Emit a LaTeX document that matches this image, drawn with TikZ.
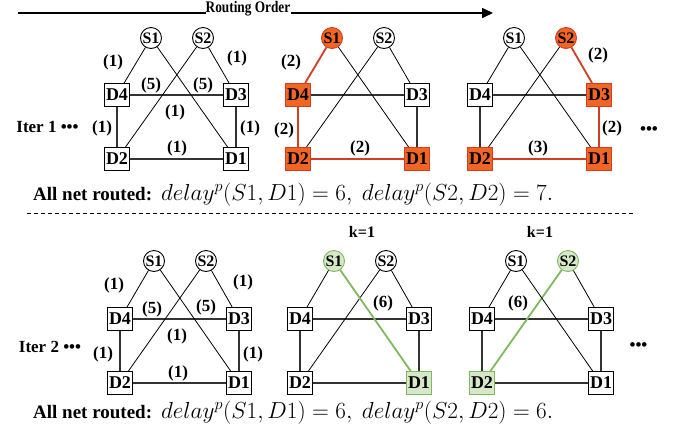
\RequirePackage{fix-cm}
\documentclass[tikz,border=0pt]{standalone}
\usepackage[no-math]{fontspec}
\setmainfont{Liberation Serif}
\usetikzlibrary{arrows.meta}
\definecolor{orfill}{RGB}{242,101,34}
\definecolor{orline}{RGB}{208,62,36}
\definecolor{grfill}{RGB}{214,232,200}
\definecolor{grline}{RGB}{128,184,96}
\tikzset{
  snode/.style={circle,draw,line width=0.9pt,minimum size=21pt,inner sep=0pt,font=\fontsize{16}{16}\selectfont\bfseries},
  dnode/.style={rectangle,draw,line width=1.1pt,minimum width=25pt,minimum height=23pt,inner sep=0pt,font=\fontsize{18}{18}\selectfont\bfseries},
  wlab/.style={font=\fontsize{17}{17}\selectfont\bfseries,inner sep=0pt},
  txt/.style={font=\fontsize{17}{17}\selectfont\bfseries,inner sep=0pt},
  big/.style={font=\fontsize{19}{19}\selectfont\bfseries,inner sep=0pt},
  mth/.style={font=\fontsize{23.2}{23.2}\selectfont,inner sep=0pt},
  edge/.style={line width=0.8pt},
  sqedge/.style={line width=1.1pt,draw=black!80},
  oredge/.style={draw=orline,line width=1.8pt},
  ornode/.style={fill=orfill,draw=orline},
  gredge/.style={draw=grline,line width=1.8pt},
  grnode/.style={fill=grfill,draw=grline},
  bS1/.style={ornode}, bD4/.style={ornode}, bD2/.style={ornode}, bD1/.style={ornode},
  bS1D4/.style={oredge}, bD4D2/.style={oredge}, bD2D1/.style={oredge},
  cS2/.style={ornode}, cD3/.style={ornode}, cD2/.style={ornode}, cD1/.style={ornode},
  cS2D3/.style={oredge}, cD3D1/.style={oredge}, cD2D1/.style={oredge},
  eS1/.style={grnode}, eD1/.style={grnode}, eS1D1/.style={gredge},
  fS2/.style={grnode}, fD2/.style={grnode}, fS2D2/.style={gredge},
}
% prefix, x0, yS, yR1, yR2
\newcommand\gph[5]{%
  \node[snode,#1S1/.try] (#1S1) at (#2+34,#3) {S1};
  \node[snode,#1S2/.try] (#1S2) at (#2+86,#3) {S2};
  \node[dnode,#1D4/.try] (#1D4) at (#2,#4) {D4};
  \node[dnode,#1D3/.try] (#1D3) at (#2+119,#4) {D3};
  \node[dnode,#1D2/.try] (#1D2) at (#2,#5) {D2};
  \node[dnode,#1D1/.try] (#1D1) at (#2+119,#5) {D1};
  \draw[sqedge,#1D4D3/.try] (#1D4) -- (#1D3);
  \draw[sqedge,#1D4D2/.try] (#1D4) -- (#1D2);
  \draw[sqedge,#1D3D1/.try] (#1D3) -- (#1D1);
  \draw[sqedge,#1D2D1/.try] (#1D2) -- (#1D1);
  \draw[edge,#1S2D3/.try] (#1S2) -- (#1D3);
  \draw[edge,#1S1D4/.try] (#1S1) -- (#1D4);
  \draw[edge,#1S2D2/.try] (#1S2) -- (#1D2);
  \draw[edge,#1S1D1/.try] (#1S1) -- (#1D1);
}
\begin{document}
\begin{tikzpicture}[x=1pt,y=-1pt]
\useasboundingbox (0,0) rectangle (681,432);
% routing order arrow
\node[font=\fontsize{14}{14}\selectfont\bfseries,inner sep=0pt] (ro) at (248,9) {\scalebox{0.95}[1.15]{Routing Order}};
\coordinate (ras) at (18,13);
\coordinate (rae) at (493,13);
\draw[line width=1.6pt] (ras) -- (ras -| ro.west);
\draw[line width=1.6pt,-{Triangle[length=11pt,width=10pt]}] (rae -| ro.east) -- (rae);
% top graphs
\gph{a}{117}{38}{95}{159}
\gph{b}{298}{38}{95}{159}
\gph{c}{480}{38}{95}{159}
% bottom graphs
\gph{d}{120}{261}{319}{383}
\gph{e}{300}{261}{319}{383}
\gph{f}{482}{261}{319}{383}
% labels graph a
\node[wlab] (la1) at (113,62) {(1)};
\node[wlab] (la2) at (237,58) {(1)};
\node[wlab] (la3) at (151,85) {(5)};
\node[wlab] (la4) at (203,85) {(5)};
\node[wlab] (la5) at (175,112) {(1)};
\node[wlab] (la6) at (102,128) {(1)};
\node[wlab] (la7) at (250,128) {(1)};
\node[wlab] (la8) at (177,148) {(1)};
% labels graph b
\node[wlab] (lb1) at (291,62) {(2)};
\node[wlab] (lb2) at (284,130) {(2)};
\node[wlab] (lb3) at (360,148) {(2)};
% labels graph c
\node[wlab] (lc1) at (598,55) {(2)};
\node[wlab] (lc2) at (612,128) {(2)};
\node[wlab] (lc3) at (538,148) {(3)};
% labels graph d
\node[wlab] (ld1) at (114,285) {(1)};
\node[wlab] (ld2) at (243,282) {(1)};
\node[wlab] (ld3) at (152,309) {(5)};
\node[wlab] (ld4) at (206,307) {(5)};
\node[wlab] (ld5) at (177,336) {(1)};
\node[wlab] (ld6) at (103,354) {(1)};
\node[wlab] (ld7) at (253,354) {(1)};
\node[wlab] (ld8) at (178,373) {(1)};
% labels graph e, f
\node[wlab] (le1) at (383,303) {(6)};
\node[wlab] (lf1) at (518,303) {(6)};
\node[font=\fontsize{16}{16}\selectfont\bfseries,inner sep=0pt] (k1) at (362,232) {k=1};
\node[font=\fontsize{16}{16}\selectfont\bfseries,inner sep=0pt] (k2) at (540,232) {k=1};
% iteration labels and dots
\node[txt] (it1) at (47.5,127) {Iter 1 •••};
\node[txt] (it2) at (50,347) {Iter 2 •••};
\node[txt] (dt1) at (649,131) {•••};
\node[txt] (dt2) at (638.5,347) {•••};
% results
\node[big,anchor=base west] (r1) at (33,200) {All net routed:};
\node[mth,anchor=base west] (m1) at (161,200) {$delay^p(S1, D1) = 6,\ delay^p(S2, D2) = 7.$};
\node[big,anchor=base west] (r2) at (33,418) {All net routed:};
\node[mth,anchor=base west] (m2) at (161,418) {$delay^p(S1, D1) = 6,\ delay^p(S2, D2) = 6.$};
% separator
\coordinate (ds) at (27,213);
\coordinate (de) at (633,213);
\draw[line width=0.7pt,dash pattern=on 4pt off 3pt] (ds) -- (de);
\end{tikzpicture}
\end{document}
